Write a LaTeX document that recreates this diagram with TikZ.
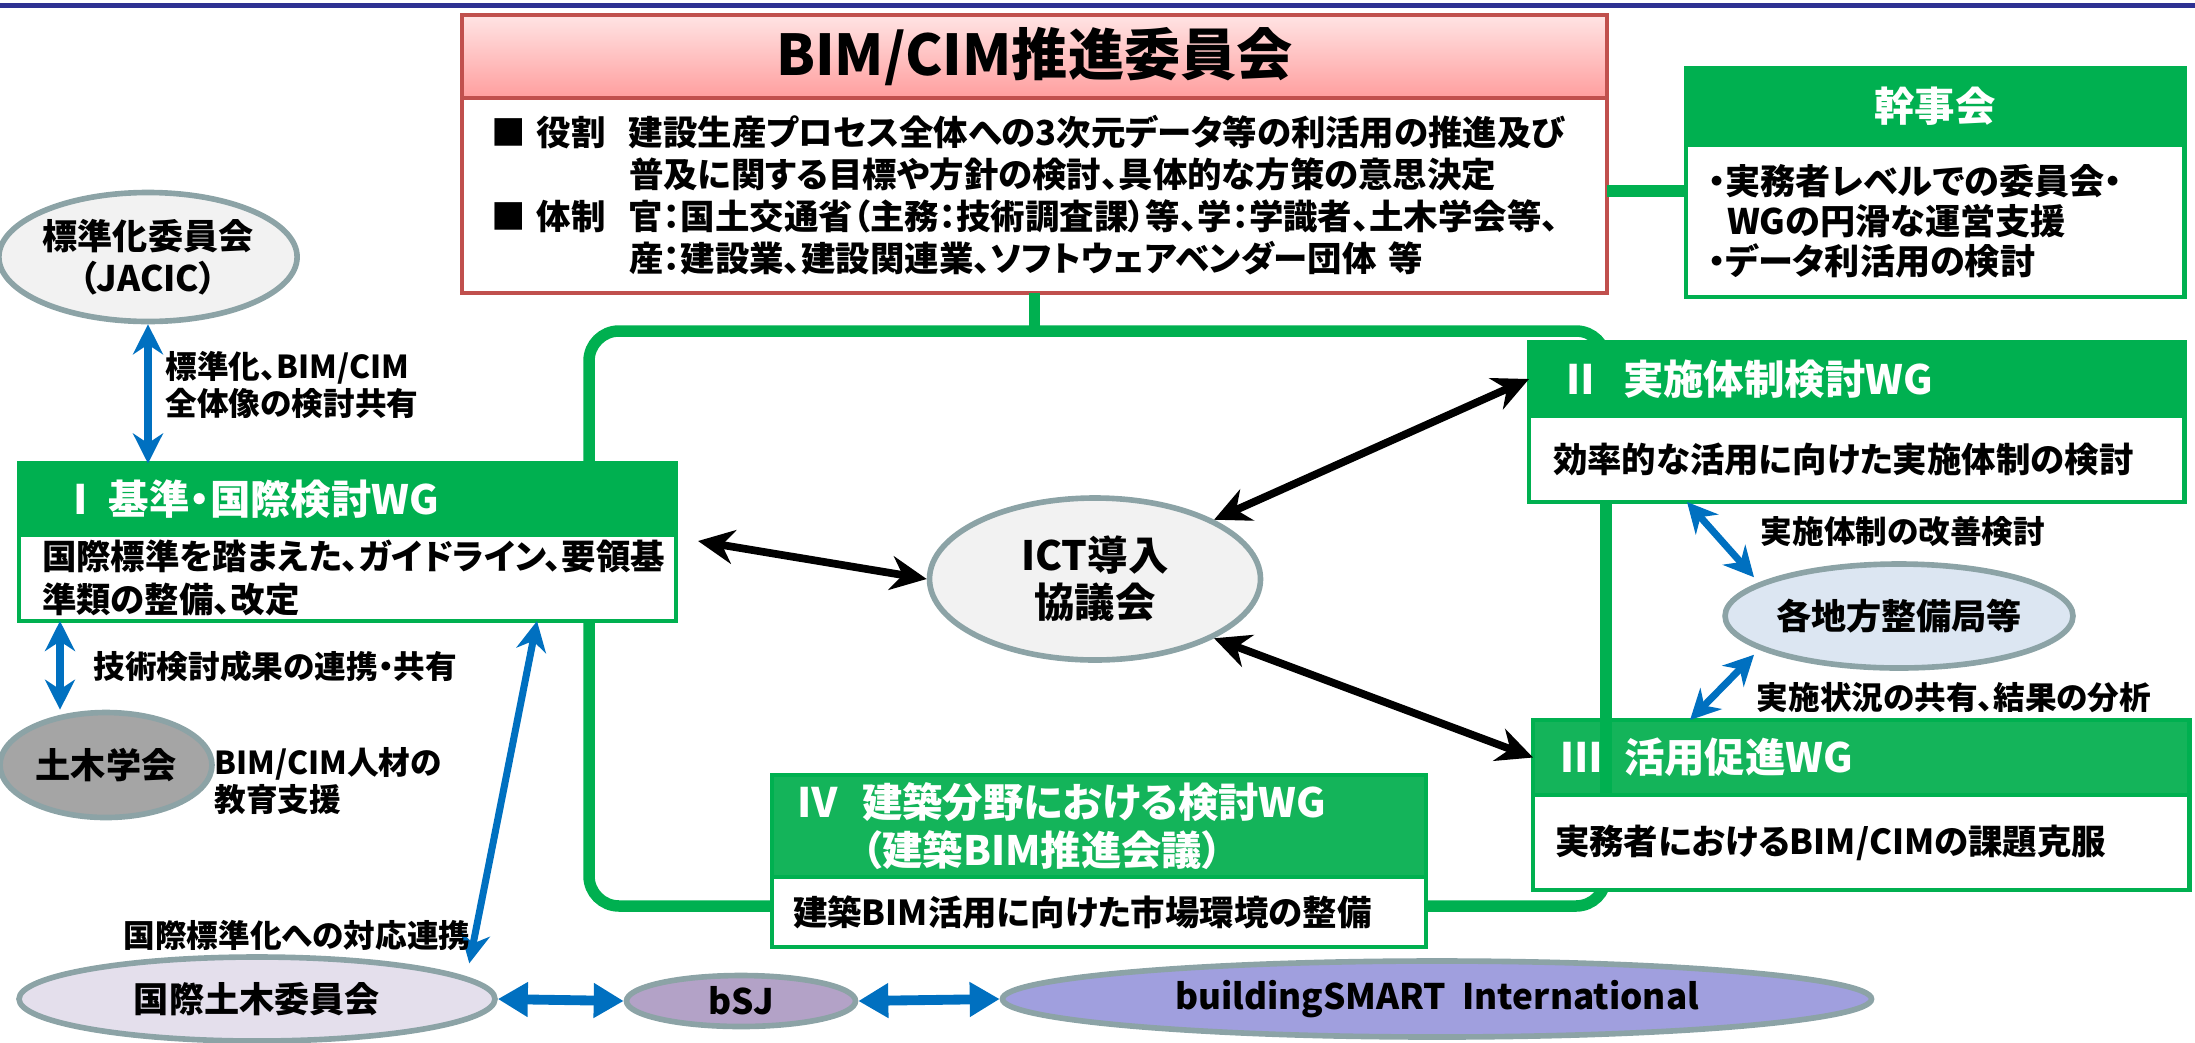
\documentclass[tikz,border=0pt]{standalone}
\usepackage{fontspec}
\setmainfont{Noto Sans CJK JP}[RawFeature=+palt]
\usetikzlibrary{shapes.geometric,arrows.meta}

\definecolor{navyline}{HTML}{2E3192}
\definecolor{wggreen}{HTML}{00B050}
\definecolor{wglight}{HTML}{14B45A}
\definecolor{redline}{HTML}{C0504D}
\definecolor{pinktop}{HTML}{FFE4E4}
\definecolor{pinkbot}{HTML}{FF9E9E}
\definecolor{orgline}{HTML}{8CA3A6}
\definecolor{orggray}{HTML}{F2F2F2}
\definecolor{orgdark}{HTML}{A5A5A5}
\definecolor{orglilac}{HTML}{E4DFEC}
\definecolor{orgpurple}{HTML}{B3A2C7}
\definecolor{orgblue}{HTML}{A09FDE}
\definecolor{orgsky}{HTML}{DCE6F2}
\definecolor{linkblue}{HTML}{0070C0}

\begin{document}
\begin{tikzpicture} [
                scale=1,
                panel/.style={rectangle,anchor=north west,outer sep=0pt,inner ysep=0.5mm,line width=1.4pt},
                wghead/.style={panel,fill=wggreen,draw=wggreen,text=white,align=left,font=\bfseries\fontsize{11.5}{13.7}\selectfont},
                wgbody/.style={panel,fill=white,draw=wggreen,align=left,font=\bfseries\fontsize{9.8}{12}\selectfont},
                org/.style={ellipse,draw=orgline,line width=1.6pt,inner sep=0pt,align=center,font=\bfseries\fontsize{10}{12}\selectfont},
                bluelink/.style={draw=linkblue,line width=2pt,{Stealth[length=3mm,width=3mm]}-{Stealth[length=3mm,width=3mm]}},
                biglink/.style={draw=linkblue,line width=2.8pt,{Triangle[length=3mm,width=3.3mm]}-{Triangle[length=3mm,width=3.3mm]}},
                ictlink/.style={draw=black,line width=2.2pt,{Stealth[length=3.6mm,width=3.4mm]}-{Stealth[length=3.6mm,width=3.4mm]}},
                frameline/.style={draw=wggreen,line width=0.115cm},
                lbl/.style={anchor=west,inner sep=0pt,align=left,font=\bfseries\fontsize{9}{10.5}\selectfont},
            ]
            \useasboundingbox (0,0) rectangle (21.95,-10.42);
            \draw[navyline,line width=0.05cm] (0,-0.05) -- (21.95,-0.05);
            % frame of the working groups
            \node[frameline,rounded corners=0.3cm,minimum width=10.17cm,minimum height=5.75cm,outer sep=0pt] (frame) at (10.975,-6.185) {};
            \node[panel,minimum width=11.45cm,minimum height=0.83cm,draw=redline,top color=pinktop,bottom color=pinkbot,inner sep=0pt,align=center,font=\bfseries\fontsize{16}{19}\selectfont] (kaigi) at (4.62,-0.15) {BIM/CIM推進委員会};
            \node[panel,draw=redline,fill=white,text width=10.87cm,inner xsep=0.29cm,minimum height=1.95cm,align=left,font=\bfseries\fontsize{9.8}{11.95}\selectfont] (kaigibody) at (kaigi.south west) {\makebox[1.38cm][l]{■ 役割}建設生産プロセス全体への3次元データ等の利活用の推進及び\\
                \hspace*{1.38cm}普及に関する目標や方針の検討、具体的な方策の意思決定\\
                \makebox[1.38cm][l]{■ 体制}官：国土交通省（主務：技術調査課）等、学：学識者、土木学会等、\\
                \hspace*{1.38cm}産：建設業、建設関連業、ソフトウェアベンダー団体 等};
            \draw[frameline] (kaigibody.south) -- (kaigibody.south |- frame.north);
            \node[wghead,minimum width=4.98cm,minimum height=0.77cm,inner xsep=0pt,align=center] (kanji) at (16.86,-0.68) {幹事会};
            \node[wgbody,text width=4.54cm,inner xsep=0.22cm,minimum height=1.52cm,font=\bfseries\fontsize{10}{11.4}\selectfont] (kanjibody) at (kanji.south west) {・実務者レベルでの委員会・\\\hspace*{0.19cm}WGの円滑な運営支援\\・データ利活用の検討};
            \draw[frameline] ([yshift=0.45mm]kaigibody.east) -- ([yshift=0.45mm]kaigibody.east -| kanjibody.west);
            % working groups
            \node[wghead,text width=5.75cm,inner xsep=0.41cm,minimum height=0.715cm] (wgI) at (0.19,-4.635) {\makebox[0.49cm][l]{Ⅰ}基準・国際検討WG};
            \node[wgbody,text width=6.11cm,inner xsep=0.23cm,minimum height=0.86cm] (wgIbody) at (wgI.south west) {国際標準を踏まえた、ガイドライン、要領基\\準類の整備、改定};
            \node[wghead,text width=5.93cm,inner xsep=0.31cm,minimum height=0.74cm] (wgII) at (15.29,-3.42) {\makebox[0.63cm][l]{Ⅱ}実施体制検討WG};
            \node[wgbody,text width=6.07cm,inner xsep=0.24cm,minimum height=0.86cm] (wgIIbody) at (wgII.south west) {効率的な活用に向けた実施体制の検討};
            \node[wghead,fill=wglight,text width=6.00cm,inner xsep=0.28cm,minimum height=0.75cm] (wgIII) at (15.33,-7.20) {\makebox[0.63cm][l]{Ⅲ}活用促進WG};
            \node[wgbody,text width=6.12cm,inner xsep=0.22cm,minimum height=0.95cm] (wgIIIbody) at (wgIII.south west) {実務者におけるBIM/CIMの課題克服};
            \node[wghead,fill=wglight,text width=6.04cm,inner xsep=0.25cm,minimum height=1.02cm] (wgIV) at (7.72,-7.75) {\makebox[0.65cm][l]{Ⅳ}建築分野における検討WG\\\hspace*{0.65cm}（建築BIM推進会議）};
            \node[wgbody,text width=6.12cm,inner xsep=0.21cm,minimum height=0.70cm] (wgIVbody) at (wgIV.south west) {建築BIM活用に向けた市場環境の整備};
            \draw[frameline] (frame.east |- wgIIbody.south) -- (frame.east |- wgIII.south);
            % organisations
            \foreach \pos/\name/\ew/\eh/\col/\txt in {
                    {(1.48,-2.57)/jacic/2.90/1.29/orggray/{標準化委員会\\（JACIC）}},
                    {(1.06,-7.65)/doboku/2.12/1.05/orgdark/土木学会},
                    {(2.57,-9.99)/kokusai/4.76/0.84/orglilac/国際土木委員会},
                    {(7.41,-10.01)/bsj/2.29/0.51/orgpurple/bSJ},
                    {(14.37,-9.99)/bsi/8.69/0.76/orgblue/{buildingSMART\ \ International}},
                    {(18.99,-6.16)/kyoku/3.46/1.04/orgsky/各地方整備局等}}
                \node[org,fill=\col,minimum width=\ew cm,minimum height=\eh cm] (\name) at \pos {\txt};
            \node[org,fill=orggray,minimum width=3.31cm,minimum height=1.62cm,font=\bfseries\fontsize{11.5}{13.4}\selectfont] (ict) at (10.95,-5.79) {ICT導入\\協議会};
            % connectors
            \draw[ictlink] ([shift={(2.2mm,-0.6mm)}]wgIbody.north east) -- (ict.west);
            \draw[ictlink] (ict.north east) -- (wgII.west);
            \draw[ictlink] (ict.south east) -- (wgIII.west);
            \draw[bluelink] (jacic.south) -- (jacic.south |- wgI.north);
            \draw[bluelink] ([xshift=4.1mm]wgIbody.south west) -- ([xshift=4.1mm]wgIbody.south west |- doboku.north);
            \draw[bluelink] ([xshift=-13.9mm]wgIbody.south east) -- ([shift={(4.2mm,0.4mm)}]kokusai.north east);
            \draw[bluelink] ([xshift=15.8mm]wgIIbody.south west) -- ([xshift=-2mm]kyoku.north west);
            \draw[bluelink] ([xshift=-2mm]kyoku.south west) -- ([xshift=15.7mm]wgIII.north west);
            \draw[biglink] (kokusai.east) -- (bsj.west);
            \draw[biglink] (bsj.east) -- (bsi.west);
            % labels
            \node[lbl] (stdnote) at (1.65,-3.85) {標準化、BIM/CIM\\全体像の検討共有};
            \node[lbl] (technote) at (0.93,-6.66) {技術検討成果の連携・共有};
            \node[lbl] (edunote) at (2.14,-7.81) {BIM/CIM人材の\\教育支援};
            \node[lbl] (intlnote) at (1.23,-9.35) {国際標準化への対応連携};
            \node[lbl] (impnote) at (17.60,-5.32) {実施体制の改善検討};
            \node[lbl] (sharenote) at (17.56,-6.98) {実施状況の共有、結果の分析};
        \end{tikzpicture}
\end{document}
